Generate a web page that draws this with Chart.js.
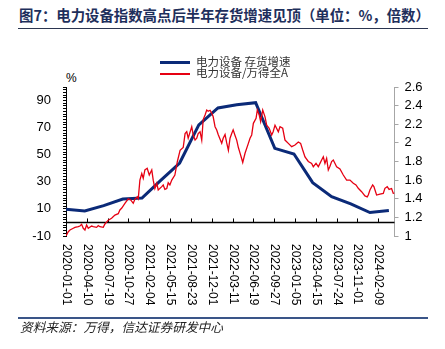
<!DOCTYPE html>
<html>
<head>
<meta charset="utf-8">
<script src="https://cdn.jsdelivr.net/npm/chart.js@4.4.1/dist/chart.umd.min.js"></script>
<style>
  html, body { margin: 0; padding: 0; background: #fff; }
  #wrap { position: relative; width: 445px; height: 349px; overflow: hidden; font-family: "Noto Sans CJK SC", sans-serif; }
  #chart { position: absolute; left: 0; top: 0; }
  .title { position: absolute; left: 19px; top: 4px; font-size: 14.4px; font-weight: bold; color: #1e2f5c; white-space: nowrap; }
  .rule-top { position: absolute; left: 18px; top: 27.5px; width: 410px; height: 1.5px; background: #2b3550; }
  .rule-bottom { position: absolute; left: 18px; top: 316.5px; width: 410px; height: 2px; background: #3a5588; }
  .source { position: absolute; left: 20px; top: 317px; font-size: 12.7px; font-style: italic; color: #222; white-space: nowrap; }
  .unit { position: absolute; left: 66px; top: 71px; font-family: "Liberation Sans", sans-serif; font-size: 12px; color: #000; }
  .legend { position: absolute; left: 160px; font-size: 11.5px; line-height: 11px; height: 11px; color: #333; white-space: nowrap; }
  .legend .sw { display: inline-block; width: 30px; vertical-align: middle; margin-right: 6px; }
</style>
</head>
<body>
<div id="wrap">
  <div class="title">图7：电力设备指数高点后半年存货增速见顶（单位：%，倍数）</div>
  <div class="rule-top"></div>
  <div class="unit">%</div>
  <canvas id="chart" width="445" height="349"></canvas>
  <div class="legend" style="top:56px"><span class="sw" style="height:3px;background:#0b2a78"></span>电力设备 存货增速</div>
  <div class="legend" style="top:67px"><span class="sw" style="height:1.5px;background:#e60012"></span>电力设备/万得全A</div>
  <div class="rule-bottom"></div>
  <div class="source">资料来源：万得，信达证券研发中心</div>
</div>
<script>
// quarterly inventory growth of the power equipment sector (%), left axis
const inventoryDates = [
  "2020-01-01", "2020-03-31", "2020-06-30", "2020-09-30", "2020-12-31",
  "2021-03-31", "2021-06-30", "2021-09-30", "2021-12-31",
  "2022-03-31", "2022-06-30", "2022-09-30", "2022-12-31",
  "2023-03-31", "2023-06-30", "2023-09-30", "2023-12-31", "2024-03-31"
];
const inventoryGrowth = [9.7, 8.5, 12.4, 17.3, 18.0, 31.0, 43.9, 72.0, 84.5, 86.9, 88.4, 54.7, 50.5, 29.4, 19.0, 13.7, 7.3, 8.9];

// power equipment index / Wind All A, days counted from 2020-01-01, right axis
const ratioDays = [
  0, 11, 19, 35, 43, 59, 67, 75, 83, 91, 99, 107, 123, 131, 147, 155, 163, 179, 187, 203,
  219, 235, 251, 259, 268, 283, 299, 311, 323, 331, 342, 347, 355, 364, 371, 379, 390, 400, 412, 419,
  427, 436, 443, 460, 467, 475, 484, 491, 499, 508, 523, 535, 548, 563, 572, 580, 587, 604, 611, 620,
  628, 635, 644, 652, 659, 668, 676, 683, 692, 700, 707, 716, 724, 731, 748, 755, 764, 772, 780, 788,
  796, 803, 812, 820, 828, 836, 844, 849, 860, 876, 884, 892, 900, 913, 919, 928, 935, 945, 956, 964,
  976, 988, 995, 1004, 1020, 1028, 1041, 1052, 1068, 1084, 1100, 1116, 1127, 1137, 1148, 1164, 1180, 1188, 1201, 1212,
  1220, 1228, 1236, 1244, 1252, 1260, 1268, 1276, 1284, 1300, 1316, 1332, 1348, 1364, 1380, 1393, 1404, 1420, 1436, 1447,
  1452, 1460, 1473, 1479, 1492, 1508, 1524, 1532, 1543, 1552, 1564, 1572, 1578
];
const ratioValues = [
  1.00, 1.046, 1.064, 1.083, 1.093, 1.10, 1.107, 1.125, 1.083, 1.064, 1.118, 1.083, 1.107, 1.10, 1.093, 1.111, 1.10, 1.093, 1.129, 1.17,
  1.19, 1.225, 1.24, 1.28, 1.30, 1.35, 1.40, 1.387, 1.351, 1.394, 1.42, 1.40, 1.60, 1.67, 1.62, 1.71, 1.727, 1.655, 1.71, 1.60,
  1.51, 1.566, 1.494, 1.53, 1.548, 1.50, 1.51, 1.572, 1.548, 1.60, 1.655, 1.80, 1.92, 1.95, 2.10, 2.12, 2.05, 2.174, 2.085, 2.03,
  2.05, 2.10, 2.12, 2.03, 2.25, 2.30, 2.353, 2.34, 2.35, 2.32, 2.28, 2.174, 2.138, 2.09, 1.995, 2.05, 2.09, 2.00, 1.92, 2.05,
  2.10, 2.14, 2.08, 2.03, 1.95, 1.89, 1.83, 1.79, 1.888, 1.995, 2.05, 2.085, 2.21, 2.264, 2.353, 2.30, 2.227, 2.353, 2.28, 2.19,
  2.157, 2.085, 2.12, 2.19, 2.12, 2.174, 2.157, 2.03, 1.995, 1.96, 1.977, 2.01, 1.995, 1.923, 1.85, 1.80, 1.78, 1.744, 1.78, 1.744,
  1.78, 1.816, 1.85, 1.78, 1.834, 1.709, 1.75, 1.80, 1.816, 1.744, 1.72, 1.655, 1.60, 1.60, 1.566, 1.548, 1.512, 1.476, 1.43, 1.42,
  1.44, 1.494, 1.548, 1.53, 1.44, 1.45, 1.458, 1.512, 1.53, 1.50, 1.51, 1.458, 1.46
];

const lastDay = 1578;
const labelStep = 100; // one date label every 100 days

const DAY = 86400000;
const origin = Date.UTC(2020, 0, 1);
const dayOf = (s) => Math.round((Date.parse(s) - origin) / DAY);
const dateOf = (d) => new Date(origin + d * DAY).toISOString().slice(0, 10);

// x axis sits on the 0% line, date labels hang below the plot
const dateAxis = {
  id: "dateAxis",
  beforeDatasetsDraw(chart) {
    const { ctx, chartArea, scales } = chart;
    const y0 = scales.y.getPixelForValue(0);
    ctx.save();
    ctx.strokeStyle = "#000";
    ctx.lineWidth = 1.5;
    ctx.beginPath();
    ctx.moveTo(chartArea.left, y0);
    ctx.lineTo(chartArea.right, y0);
    ctx.stroke();
    ctx.lineWidth = 1;
    ctx.fillStyle = "#000";
    ctx.font = "12px 'Liberation Sans', sans-serif";
    ctx.textAlign = "left";
    ctx.textBaseline = "middle";
    for (let d = 0; d <= lastDay; d += labelStep) {
      const x = Math.round(scales.x.getPixelForValue(d)) + 0.5;
      ctx.beginPath();
      ctx.moveTo(x, y0);
      ctx.lineTo(x, y0 - 4);
      ctx.stroke();
      ctx.save();
      ctx.translate(x, chartArea.bottom + 8);
      ctx.rotate(Math.PI / 2);
      ctx.fillText(dateOf(d), 0, 0);
      ctx.restore();
    }
    ctx.restore();
  }
};

new Chart(document.getElementById("chart"), {
  type: "line",
  data: {
    datasets: [
      {
        label: "电力设备/万得全A",
        data: ratioDays.map((d, i) => ({ x: d, y: ratioValues[i] })),
        yAxisID: "y1",
        borderColor: "#e60012",
        borderWidth: 1.3,
        pointRadius: 0
      },
      {
        label: "电力设备 存货增速",
        data: inventoryDates.map((s, i) => ({ x: dayOf(s), y: inventoryGrowth[i] })),
        yAxisID: "y",
        borderColor: "#0b2a78",
        borderWidth: 3,
        pointRadius: 0
      }
    ]
  },
  options: {
    responsive: false,
    animation: false,
    devicePixelRatio: 1,
    layout: { padding: { top: 87, bottom: 113, left: 0, right: 0 } },
    plugins: { legend: { display: false }, tooltip: { enabled: false } },
    scales: {
      x: { type: "linear", min: 0, max: lastDay, display: false },
      y: {
        position: "left",
        min: -10,
        max: 100,
        afterFit: (s) => { s.width = 66; },
        border: { color: "#000", width: 1 },
        grid: { drawOnChartArea: false, tickLength: 3, color: "#000" },
        ticks: {
          stepSize: 2,
          autoSkip: false,
          padding: 12,
          color: "#000",
          font: { family: "Liberation Sans", size: 13 },
          callback: (v) => ((v + 10) % 20 === 0 ? String(v) : "")
        }
      },
      y1: {
        position: "right",
        min: 1,
        max: 2.6,
        afterFit: (s) => { s.width = 50.5; },
        border: { color: "#a6a6a6", width: 1 },
        grid: { drawOnChartArea: false, tickLength: 4, color: "#a6a6a6" },
        ticks: {
          stepSize: 0.2,
          padding: 6,
          color: "#000",
          font: { family: "Liberation Sans", size: 13 },
          callback: (v) => String(Number(v.toFixed(1)))
        }
      }
    }
  },
  plugins: [dateAxis]
});
</script>
</body>
</html>
